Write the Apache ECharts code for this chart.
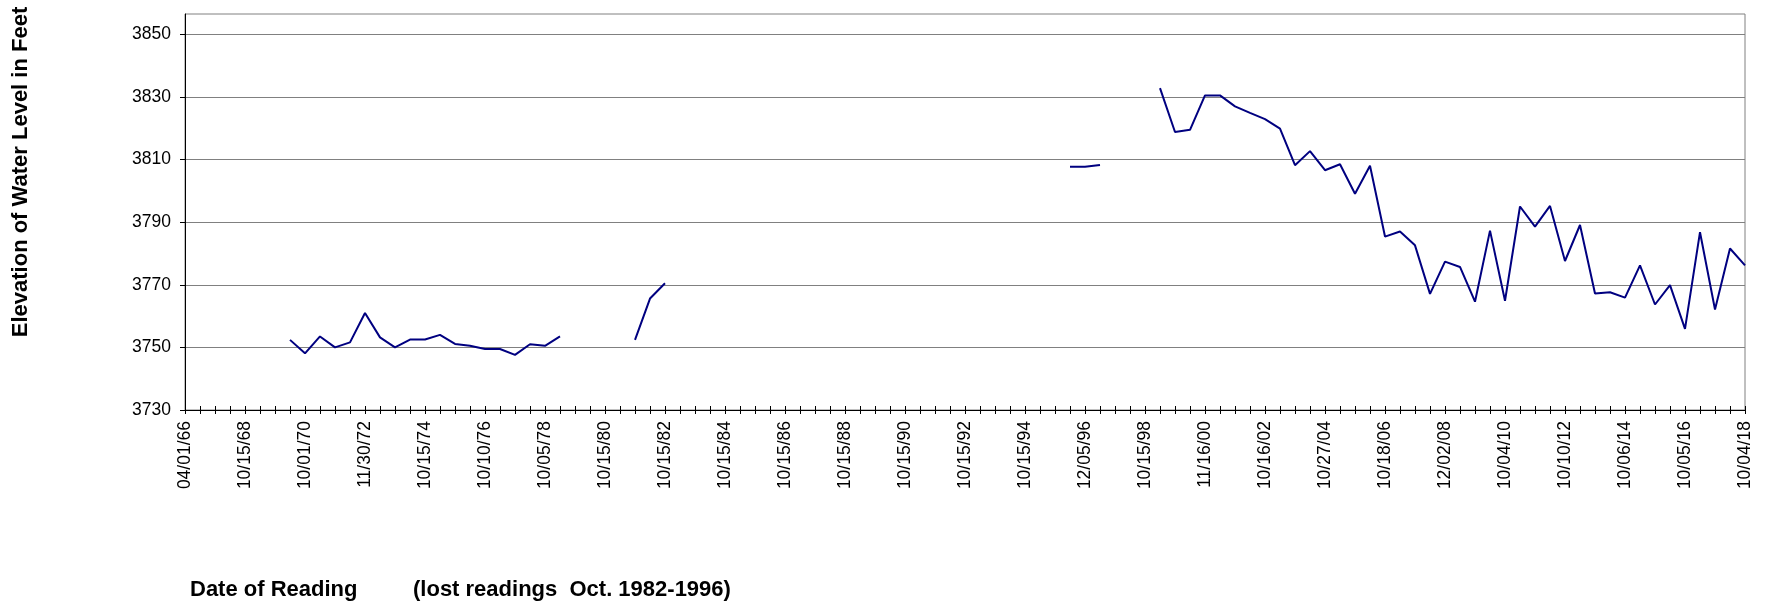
<!DOCTYPE html>
<html>
<head>
<meta charset="utf-8">
<script src="https://cdn.jsdelivr.net/npm/echarts@6/dist/echarts.min.js"></script>
<style>
html,body{margin:0;padding:0;background:#fff;}
#chart{width:1771px;height:602px;}
</style>
</head>
<body>
<div id="chart"></div>
<script>
// Tick labels shown on the date axis (every 4th reading)
var dateLabels = ['04/01/66','10/15/68','10/01/70','11/30/72','10/15/74','10/10/76','10/05/78','10/15/80','10/15/82','10/15/84','10/15/86','10/15/88','10/15/90','10/15/92','10/15/94','12/05/96','10/15/98','11/16/00','10/16/02','10/27/04','10/18/06','12/02/08','10/04/10','10/10/12','10/06/14','10/05/16','10/04/18'];
var readingsPerLabel = 4;

// Water level elevation (feet) per reading, null = lost reading
var elevation = [
  null, null, null, null, null, null, null,
  3752.4, 3748.1, 3753.5, 3750.0, 3751.6, 3761.0, 3753.2, 3750.0, 3752.5, 3752.5,
  3754.0, 3751.1, 3750.5, 3749.5, 3749.5, 3747.6, 3751.0, 3750.5, 3753.5,
  null, null, null, null,
  3752.4, 3765.6, 3770.5,
  null, null, null, null, null, null, null, null, null, null, null, null, null,
  null, null, null, null, null, null, null, null, null, null, null, null, null,
  3807.7, 3807.7, 3808.3,
  null, null, null,
  3832.8, 3818.8, 3819.5, 3830.5, 3830.5, 3827.0, 3824.9, 3822.9, 3819.9, 3808.2,
  3812.7, 3806.6, 3808.5, 3799.1, 3808.0, 3785.4, 3787.0, 3782.6, 3767.1, 3777.4,
  3775.7, 3764.6, 3787.3, 3764.9, 3795.0, 3788.6, 3795.2, 3777.6, 3789.1, 3767.2,
  3767.6, 3765.9, 3776.2, 3763.7, 3769.9, 3755.9, 3786.8, 3762.1, 3781.6, 3776.2
];

// Value-axis ticks
var yTicks = [3730, 3750, 3770, 3790, 3810, 3830, 3850];
var yMin = 3730, yMax = 3856.5;

var yTitle = 'Elevation of Water Level in Feet';
var xTitle = 'Date of Reading';
var xNote = '(lost readings  Oct. 1982-1996)';

var categories = [];
for (var i = 0; i < elevation.length; i++) {
  categories.push(i % readingsPerLabel === 0 ? dateLabels[i / readingsPerLabel] : '');
}

var FONT = '"Liberation Sans", Arial, sans-serif';
var chart = echarts.init(document.getElementById('chart'), null, {renderer: 'canvas'});
chart.setOption({
  animation: false,
  backgroundColor: '#ffffff',
  grid: {left: 185, right: 26, top: 14, bottom: 192, show: true, borderColor: '#808080', borderWidth: 1, backgroundColor: 'transparent'},
  xAxis: [{
    type: 'category',
    data: categories,
    boundaryGap: false,
    axisLine: {show: true, lineStyle: {color: '#000', width: 1}},
    axisTick: {show: true, interval: 0, length: 4, inside: false, lineStyle: {color: '#000'}},
    axisLabel: {show: true, interval: readingsPerLabel - 1, rotate: 90, margin: 11, color: '#000', fontSize: 17.5, fontFamily: FONT},
    splitLine: {show: false}
  }, {
    type: 'category',
    data: categories,
    boundaryGap: false,
    position: 'bottom',
    axisLine: {show: false},
    axisTick: {show: true, interval: 0, length: 4, inside: true, lineStyle: {color: '#000'}},
    axisLabel: {show: false},
    splitLine: {show: false}
  }],
  yAxis: {
    type: 'value',
    min: yMin,
    max: yMax,
    interval: 20,
    axisLine: {show: true, lineStyle: {color: '#000', width: 1}},
    axisTick: {show: true, length: 5, lineStyle: {color: '#000'}, customValues: yTicks},
    axisLabel: {color: '#000', fontSize: 17.5, fontFamily: FONT, margin: 14, customValues: yTicks,
      formatter: function (v) { return String(v); }},
    splitLine: {show: true, lineStyle: {color: '#808080', width: 1}}
  },
  series: [{
    type: 'line',
    data: elevation,
    xAxisIndex: 0,
    showSymbol: false,
    symbol: 'none',
    connectNulls: false,
    lineStyle: {color: '#000080', width: 2},
    itemStyle: {color: '#000080'}
  }],
  graphic: [{
    type: 'text',
    x: 21, y: 172,
    rotation: Math.PI / 2,
    style: {text: yTitle, font: 'bold 22px ' + FONT, fill: '#000', align: 'center', verticalAlign: 'middle'}
  }, {
    type: 'text',
    left: 190, top: 579,
    style: {text: xTitle, font: 'bold 22px ' + FONT, fill: '#000'}
  }, {
    type: 'text',
    left: 413, top: 579,
    style: {text: xNote, font: 'bold 22px ' + FONT, fill: '#000'}
  }]
});
</script>
</body>
</html>
